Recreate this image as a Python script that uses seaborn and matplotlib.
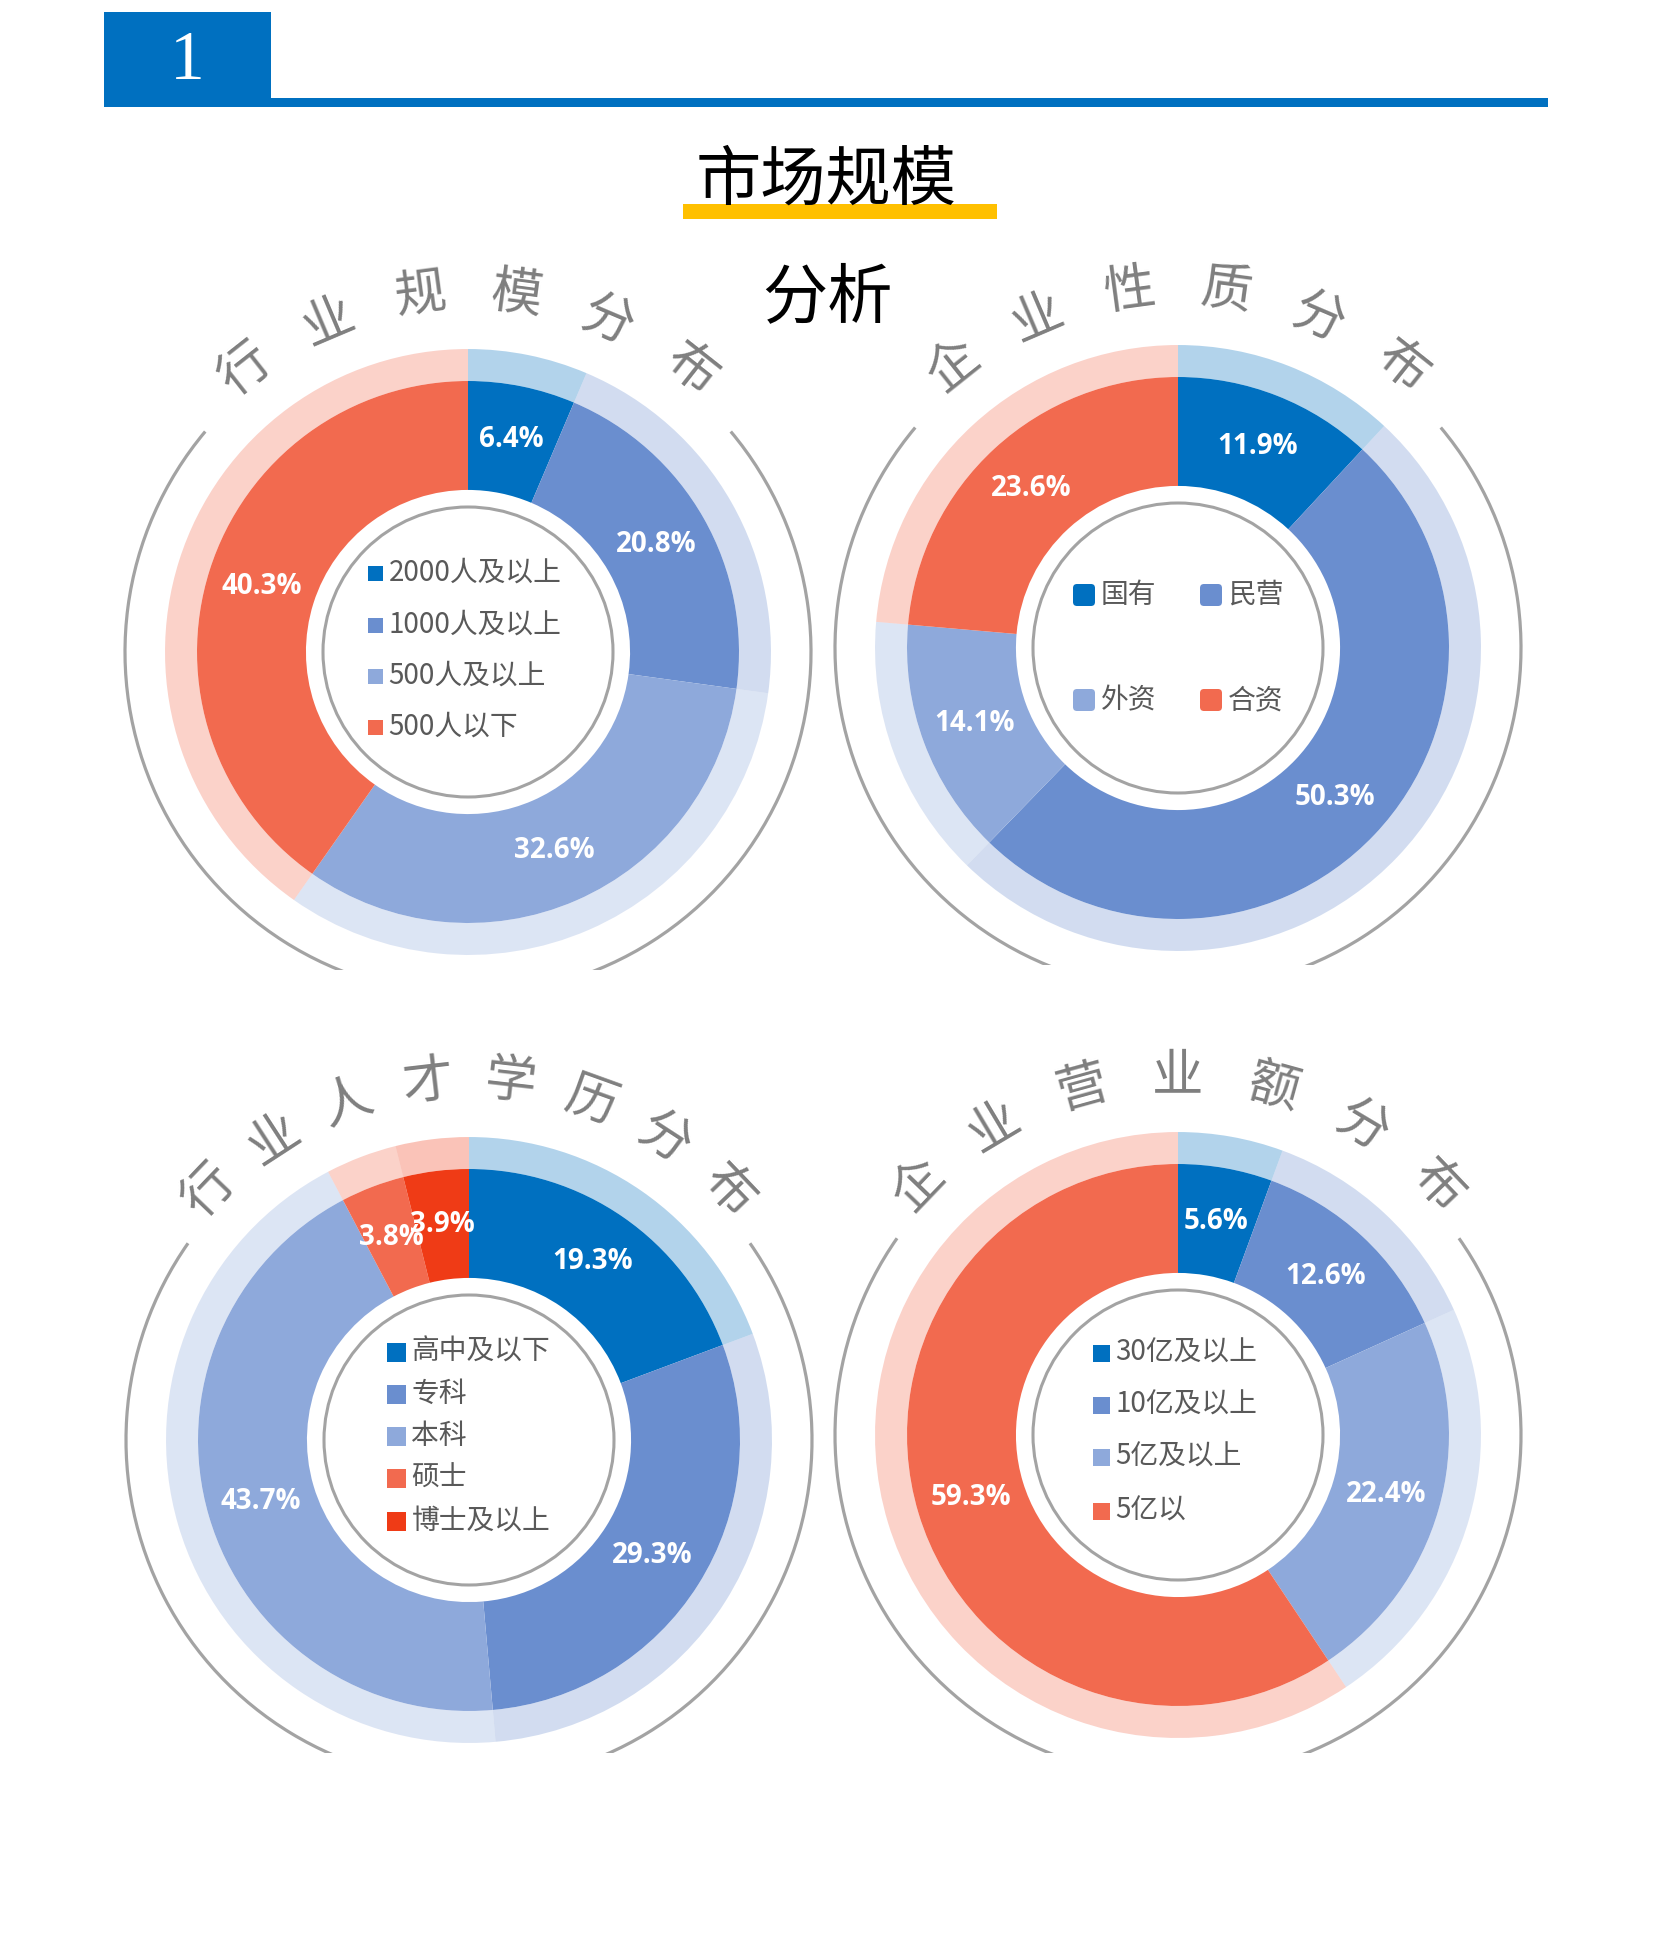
import numpy as np
import matplotlib
matplotlib.use('Agg')
import matplotlib.pyplot as plt
import matplotlib.patches as mpatches
import seaborn as sns

W, H = 1654, 1950

# ---- data ----
scale_labels = ['2000人及以上', '1000人及以上', '500人及以上', '500人以下']
scale_values = [6.4, 20.8, 32.6, 40.3]

nature_labels = ['国有', '民营', '外资', '合资']
nature_values = [11.9, 50.3, 14.1, 23.6]

edu_labels = ['高中及以下', '专科', '本科', '硕士', '博士及以上']
edu_values = [19.3, 29.3, 43.7, 3.8, 3.9]

revenue_labels = ['30亿及以上', '10亿及以上', '5亿及以上', '5亿以']
revenue_values = [5.6, 12.6, 22.4, 59.3]

panel_titles = ['行业规模分布', '企业性质分布', '行业人才学历分布', '企业营业额分布']

BLUE, MID, LIGHT, RED, DEEP_RED = '#0070C0', '#6A8ECF', '#8EA9DB', '#F26A4F', '#EF3B16'
GREY, TEXT, LINE = '#7F7F7F', '#595959', '#A3A3A3'

sns.set_theme(style='white')
plt.rcParams['font.family'] = ['Noto Sans CJK SC', 'DejaVu Sans']

R_OUT = 271


def Y(y):
    # picture rows run downwards, data y runs upwards
    return H - y


def donut(ax, cx, cy, values, labels, colors, title, step, gap, clip_y, legend):
    c = (cx, Y(cy))
    # pale outer ring
    ax.pie(values, colors=colors, radius=R_OUT * 1.118, center=c, startangle=90,
           counterclock=False, frame=True,
           wedgeprops=dict(width=R_OUT * 0.118, alpha=0.3, linewidth=0))
    wedges, _ = ax.pie(values, colors=colors, radius=R_OUT, center=c, startangle=90,
                       counterclock=False, frame=True,
                       wedgeprops=dict(width=R_OUT * 0.402, linewidth=0))
    for w, v in zip(wedges, values):
        a = np.deg2rad((w.theta1 + w.theta2) / 2)
        ax.text(c[0] + 0.8 * R_OUT * np.cos(a), c[1] + 0.8 * R_OUT * np.sin(a), f'{v}%',
                ha='center', va='center', color='white', fontsize=20,
                fontweight='bold', family=['Open Sans', 'DejaVu Sans'])

    ax.add_patch(mpatches.Circle(c, 145, fill=False, ec=LINE, lw=2.2))

    arc = mpatches.Arc(c, 2 * 343, 2 * 343, theta1=90 + gap, theta2=90 - gap, color=LINE, lw=2.3)
    ax.add_patch(arc)
    clip = mpatches.Rectangle((cx - 420, Y(clip_y)), 840, 900, transform=ax.transData)
    arc.set_clip_path(clip)

    n = len(title)
    for i, ch in enumerate(title):
        a = (i - (n - 1) / 2) * step
        ar = np.deg2rad(a)
        ax.text(c[0] + 360 * np.sin(ar), c[1] + 360 * np.cos(ar), ch, rotation=-a,
                rotation_mode='anchor', ha='center', va='center', fontsize=37, color=GREY)

    size, rounded, spots = legend
    for (dx, dy), lab, col in zip(spots, labels, colors):
        x0, y0 = cx + dx, Y(cy + dy)
        if rounded:
            ax.add_patch(mpatches.FancyBboxPatch((x0 - size / 2, y0 - size / 2), size, size,
                                                 boxstyle='round,pad=0,rounding_size=4',
                                                 fc=col, ec='none'))
        else:
            ax.add_patch(mpatches.Rectangle((x0 - size / 2, y0 - size / 2), size, size,
                                            fc=col, ec='none'))
        ax.text(x0 + size / 2 + 6, y0, lab, ha='left', va='center', fontsize=20, color=TEXT)


fig = plt.figure(figsize=(W / 100, H / 100), dpi=100)
ax = fig.add_axes([0, 0, 1, 1])

# header band
ax.add_patch(mpatches.Rectangle((104, Y(107)), 167, 95, fc=BLUE, ec='none'))
ax.add_patch(mpatches.Rectangle((104, Y(107)), 1444, 9, fc=BLUE, ec='none'))
ax.text(187, Y(62), '1', ha='center', va='center', color='white', fontsize=50,
        family=['Liberation Serif', 'DejaVu Serif'])

# main title
ax.add_patch(mpatches.Rectangle((683, Y(219)), 314, 15, fc='#FFC000', ec='none', zorder=1))
ax.text(826, Y(181), '市场规模', ha='center', va='center', fontsize=47, color='black', zorder=2)
ax.text(827, Y(299), '分析', ha='center', va='center', fontsize=47, color='black', zorder=2)

four = [BLUE, MID, LIGHT, RED]
donut(ax, 468, 652, scale_values, scale_labels, four, panel_titles[0], 15.3, 50, 970,
      (15, False, [(-93, d) for d in (-79, -27, 24, 75)]))
donut(ax, 1178, 648, nature_values, nature_labels, four, panel_titles[1], 15.4, 50, 965,
      (22, True, [(-94, -53), (33, -53), (-94, 52), (33, 52)]))
donut(ax, 469, 1440, edu_values, edu_labels, [BLUE, MID, LIGHT, RED, DEEP_RED],
      panel_titles[2], 13.2, 55, 1753,
      (19, False, [(-73, d) for d in (-88, -46, -4, 38, 81)]))
donut(ax, 1178, 1435, revenue_values, revenue_labels, four, panel_titles[3], 15.4, 55, 1753,
      (17, False, [(-77, d) for d in (-82, -30, 22, 76)]))

ax.set_xlim(0, W)
ax.set_ylim(0, H)
ax.set_aspect('equal', adjustable='box')
ax.axis('off')

fig.savefig('out.png', dpi=100, facecolor='white')
